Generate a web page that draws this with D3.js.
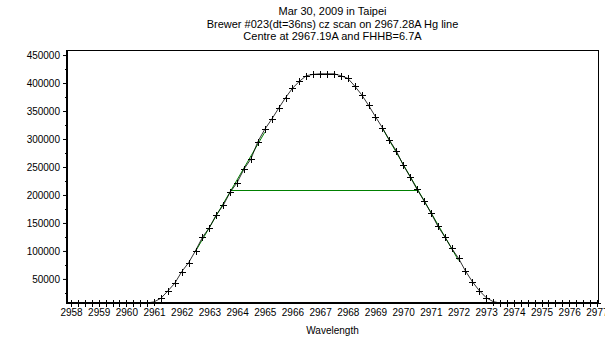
<!DOCTYPE html>
<html>
<head>
<meta charset="utf-8">
<script src="https://cdn.jsdelivr.net/npm/d3@7"></script>
<style>
	body { margin: 0; background: #fff; }
	text { font-family: "Liberation Sans", Arial, sans-serif; fill: #000; }
</style>
</head>
<body>
<svg id="chart" width="605" height="343"></svg>
<script>
// Titles
var titleLines = [
	'Mar 30, 2009 in Taipei',
	'Brewer #023(dt=36ns) cz scan on 2967.28A Hg line',
	'Centre at 2967.19A and FHHB=6.7A'
];
var xLabel = 'Wavelength';

// Scan grid (A) and counts at each step
var waveStart = 2958, waveStep = 0.25;
var counts = [
	7000, 7000, 7000, 7000, 7000, 7000, 7000, 7000, 7000, 7000, 7000, 7000,
	9000, 15500, 28600, 42300, 63000, 79100, 100500, 124500, 141600, 164800,
	181500, 205000, 222000, 246400, 264300, 295200, 317300, 335200, 354800,
	373800, 390500, 403000, 413000, 415500, 416500, 416500, 416500, 413000,
	408400, 394600, 379100, 360200, 339800, 320200, 298200, 279100, 253600,
	232700, 210000, 190000, 168400, 144600, 125500, 104800, 87000, 64300,
	45200, 29100, 16600, 9500, 7000,
	7000, 7000, 7000, 7000, 7000, 7000, 7000, 7000, 7000, 7000, 7000, 7000, 7000, 7000
];
var xTicks = d3.range(2958, 2978, 1);
var yTicks = [50000, 100000, 150000, 200000, 250000, 300000, 350000, 400000, 450000];

(function() {
	var data = counts.map(function(c, i) { return { w: waveStart + i * waveStep, v: c }; });

	var svg = d3.select('#chart');
	var pl = 67, pr = 598, pt = 50, pb = 303;
	var font = '"Liberation Sans", Arial, sans-serif';

	var x = d3.scaleLinear().domain([2957.855, 2977.04]).range([pl, pr]);
	var y = d3.scaleLinear().domain([7000, 459000]).range([pb, pt]);

	// title
	svg.selectAll('.title').data(titleLines).enter().append('text')
		.attr('x', (pl + pr) / 2)
		.attr('y', function(d, i) { return 15 + i * 12.5; })
		.attr('text-anchor', 'middle')
		.style('font-size', '11px')
		.text(function(d) { return d; });

	// frame
	svg.append('rect')
		.attr('x', pl + 0.5).attr('y', pt + 0.5)
		.attr('width', pr - pl).attr('height', pb - pt)
		.attr('fill', 'none').attr('stroke', '#000').attr('stroke-width', 1);

	// y axis
	var yAxis = d3.axisLeft(y).tickValues(yTicks).tickSize(4).tickFormat(d3.format('d'));
	var gy = svg.append('g').attr('transform', 'translate(' + pl + ',0)').call(yAxis);
	gy.select('.domain').remove();
	gy.selectAll('text').style('font-size', '10px').style('font-family', font);
	// minor y ticks
	svg.append('g').selectAll('line')
		.data(d3.range(25000, 459000, 50000)).enter().append('line')
		.attr('x1', pl - 2).attr('x2', pl)
		.attr('y1', function(d) { return Math.round(y(d)) + 0.5; })
		.attr('y2', function(d) { return Math.round(y(d)) + 0.5; })
		.attr('stroke', '#000');

	// x axis labels
	var xAxis = d3.axisBottom(x).tickValues(xTicks).tickSize(0).tickPadding(6).tickFormat(d3.format('d'));
	var gx = svg.append('g').attr('transform', 'translate(0,' + pb + ')').call(xAxis);
	gx.select('.domain').remove();
	gx.selectAll('text').style('font-size', '10px').style('font-family', font);

	svg.append('text')
		.attr('x', (pl + pr) / 2)
		.attr('y', 334)
		.attr('text-anchor', 'middle')
		.style('font-size', '10px')
		.text(xLabel);

	// thick left and bottom axes
	svg.append('line').attr('x1', pl).attr('x2', pl).attr('y1', pt).attr('y2', pb + 1)
		.attr('stroke', '#000').attr('stroke-width', 2);
	svg.append('line').attr('x1', pl - 1).attr('x2', pr + 1).attr('y1', pb).attr('y2', pb)
		.attr('stroke', '#000').attr('stroke-width', 2);

	// slope fits (points between 20% and 80% of peak) and half-max line
	var peak = d3.max(counts), iPeak = counts.indexOf(peak);
	function fit(pts) {
		var mx = d3.mean(pts, function(d) { return d.w; }), my = d3.mean(pts, function(d) { return d.v; });
		var sxy = d3.sum(pts, function(d) { return (d.w - mx) * (d.v - my); });
		var sxx = d3.sum(pts, function(d) { return (d.w - mx) * (d.w - mx); });
		var b = sxy / sxx;
		return { a: my - b * mx, b: b, pts: pts };
	}
	function inBand(d) { return d.v >= 0.2 * peak && d.v <= 0.8 * peak; }
	var fitL = fit(data.slice(0, iPeak).filter(inBand));
	var fitR = fit(data.slice(iPeak).filter(inBand));
	var half = peak / 2;
	var wL = (half - fitL.a) / fitL.b, wR = (half - fitR.a) / fitR.b;

	var green = '#008000';
	[fitL, fitR].forEach(function(f) {
		var w0 = d3.min(f.pts, function(d) { return d.w; }), w1 = d3.max(f.pts, function(d) { return d.w; });
		svg.append('line')
			.attr('x1', x(w0)).attr('y1', y(f.a + f.b * w0))
			.attr('x2', x(w1)).attr('y2', y(f.a + f.b * w1))
			.attr('stroke', green).attr('stroke-width', 1);
	});
	svg.append('line')
		.attr('x1', x(wL)).attr('x2', x(wR))
		.attr('y1', Math.round(y(half)) + 0.5).attr('y2', Math.round(y(half)) + 0.5)
		.attr('stroke', green).attr('stroke-width', 1);

	// scan line
	var line = d3.line().x(function(d) { return x(d.w); }).y(function(d) { return y(d.v); });
	svg.append('path').datum(data)
		.attr('d', line)
		.attr('fill', 'none').attr('stroke', '#000').attr('stroke-width', 0.8);

	// + markers
	var s = 3.5;
	svg.append('g').selectAll('path').data(data).enter().append('path')
		.attr('d', function(d) {
			var cx = Math.round(x(d.w)) + 0.5, cy = Math.round(y(d.v)) + 0.5;
			return 'M' + (cx - s) + ',' + cy + 'H' + (cx + s) + 'M' + cx + ',' + (cy - s) + 'V' + (cy + s);
		})
		.attr('stroke', '#000').attr('stroke-width', 1).attr('fill', 'none');
})();
</script>
</body>
</html>
